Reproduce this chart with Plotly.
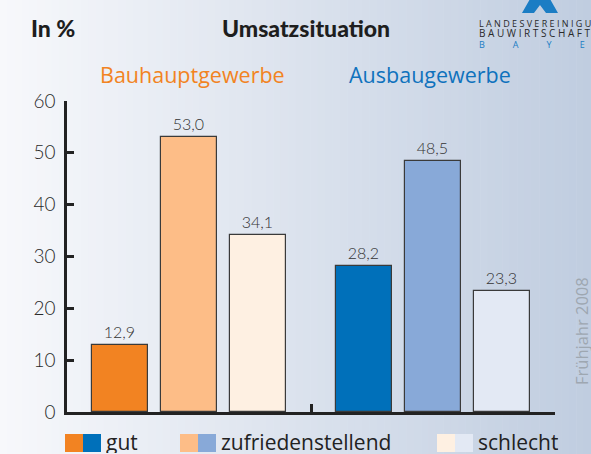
import plotly.graph_objects as go

# ---- data ----
groups = ["Bauhauptgewerbe", "Ausbaugewerbe"]
categories = ["gut", "zufriedenstellend", "schlecht"]
bauhaupt_values = [12.9, 53.0, 34.1]
ausbau_values = [28.2, 48.5, 23.3]
y_ticks = [0, 10, 20, 30, 40, 50, 60]

# ---- styling ----
bauhaupt_colors = ["#F28322", "#FDBD87", "#FEF0E2"]
ausbau_colors = ["#0070BA", "#88A9D8", "#E3E9F4"]
group_title_colors = ["#F28322", "#0F72BD"]

W, H = 591, 454
L, R, T, B = 67, 555, 101, 412


def px(x):
    return (x - L) / (R - L)


def py(y):
    return (B - y) / (B - T)


group_width = 3.536
pad = 0.768

fig = go.Figure()
for g, (vals, cols) in enumerate([(bauhaupt_values, bauhaupt_colors), (ausbau_values, ausbau_colors)]):
    xs = [g * group_width + pad + i for i in range(len(vals))]
    fig.add_trace(go.Bar(
        x=xs, y=vals, width=0.8,
        marker=dict(color=cols, line=dict(color="#3a3a3a", width=1.2)),
        texttemplate="%{y:.1f}", textposition="outside",
        textfont=dict(family="Lato", size=16, color="#333333", weight=300),
        cliponaxis=False, showlegend=False, hoverinfo="skip",
    ))

shapes = []
# background gradient strips
n = 80
c0 = (247, 248, 251)
c1 = (192, 205, 224)
for k in range(n):
    t = k / (n - 1)
    col = tuple(round(c0[j] + (c1[j] - c0[j]) * t) for j in range(3))
    x0 = k * W / n
    x1 = (k + 1) * W / n + 0.5
    shapes.append(dict(type="rect", xref="paper", yref="paper",
                       x0=px(x0), x1=px(x1), y0=py(H), y1=py(0),
                       fillcolor="rgb(%d,%d,%d)" % col, line=dict(width=0), layer="below"))

# logo chevron (cut by the top edge)
pts = [(522, 13), (530, -1), (550, -1), (558, 13), (546, 13), (540, 5), (534, 13)]
path = "M " + " L ".join("%f,%f" % (px(a), py(b)) for a, b in pts) + " Z"
shapes.append(dict(type="path", xref="paper", yref="paper", path=path,
                   fillcolor="#1B7DC4", line=dict(width=0)))

# legend squares
legend_items = [(65, 0), (180, 1), (437, 2)]
for x0, i in legend_items:
    for j, cols in enumerate([bauhaupt_colors, ausbau_colors]):
        shapes.append(dict(type="rect", xref="paper", yref="paper",
                           x0=px(x0 + 18 * j), x1=px(x0 + 18 * (j + 1)),
                           y0=py(452), y1=py(434),
                           fillcolor=cols[i], line=dict(width=0)))

annotations = []


def ann(text, x, y, size, color, family, xanchor="left", weight=400, angle=0, height=None):
    a = dict(text=text, x=px(x), y=py(y), xref="paper", yref="paper",
             showarrow=False, xanchor=xanchor, yanchor="middle",
             textangle=angle, borderpad=0,
             font=dict(size=size, color=color, family=family, weight=weight))
    if height:
        a["height"] = height
    annotations.append(a)


ann("In %", 30, 28, 23, "#1e1e1e", "Lato", weight=900)
ann("Umsatzsituation", 306, 28, 23, "#1e1e1e", "Lato", xanchor="center", weight=900)
ann(groups[0], 192, 74, 21.5, group_title_colors[0], "Open Sans", xanchor="center")
ann(groups[1], 430, 74, 21.5, group_title_colors[1], "Open Sans", xanchor="center")
ann("L A N D E S V E R E I N I G U N G", 478, 23, 9, "#2a2a2a", "Open Sans", height=9)
ann("B A U W I R T S C H A F T", 478, 33, 10, "#2a2a2a", "Open Sans", height=9)
sp = "&nbsp;" * 12
ann(sp.join("BAYERN"), 478, 44, 9, "#1B7DC4", "Open Sans", height=9)
ann("Frühjahr 2008", 581, 331, 16.5, "#9ea7b1", "Open Sans", xanchor="center", angle=-90)
for (x0, i) in legend_items:
    ann(categories[i], x0 + 40, 442, 21, "#222222", "Open Sans", height=22)

fig.update_layout(
    width=W, height=H,
    margin=dict(l=L, r=W - R, t=T, b=H - B, pad=0),
    paper_bgcolor="#f0f3f8", plot_bgcolor="rgba(0,0,0,0)",
    separators=",.",
    bargap=0,
    shapes=shapes, annotations=annotations,
    xaxis=dict(range=[0, 2 * group_width], showgrid=False, zeroline=False,
               showline=True, linecolor="#222222", linewidth=2.5,
               tickmode="array", tickvals=[0, group_width, 2 * group_width],
               ticks="inside", ticklen=8, tickwidth=2.5, tickcolor="#222222",
               showticklabels=False, fixedrange=True),
    yaxis=dict(range=[0, 60], showgrid=False, zeroline=False,
               showline=True, linecolor="#222222", linewidth=2.5,
               tickmode="array", tickvals=y_ticks,
               ticks="inside", ticklen=7, tickwidth=2.5, tickcolor="#222222",
               tickfont=dict(family="Lato", size=19, color="#2a2a2a", weight=300),
               ticklabelstandoff=5, fixedrange=True),
)

fig.write_html("out.html", config={"displayModeBar": False},
               post_script="document.body.style.margin='0';document.body.style.overflow='hidden';")
